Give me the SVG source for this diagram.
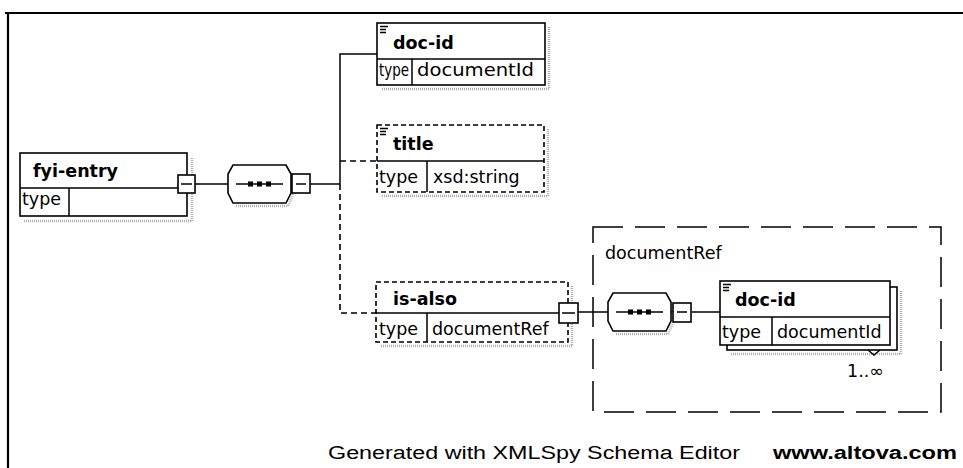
<svg xmlns="http://www.w3.org/2000/svg" width="963" height="468" viewBox="0 0 963 468">
<style>
.box{fill:#fff;stroke:#000;stroke-width:1.6}
.dbox{fill:#fff;stroke:#000;stroke-width:1.6;stroke-dasharray:5 3}
.ln{fill:none;stroke:#000;stroke-width:1.5}
.dln{fill:none;stroke:#000;stroke-width:1.6;stroke-dasharray:6 4}
.sh{fill:none;stroke:#b0b0b0;stroke-width:2.5;stroke-dasharray:1 1}
.ic{fill:none;stroke:#000;stroke-width:1.4}
.name{font-family:"DejaVu Sans",sans-serif;font-weight:bold;font-size:17.5px;fill:#000}
.txt{font-family:"DejaVu Sans",sans-serif;font-size:17.5px;fill:#000}
.foot{font-family:"Liberation Sans",Arial,sans-serif;font-size:18px;fill:#000}
.sq{fill:#000}
</style>

<!-- outer frame -->
<path d="M5,13 H963 M8,12 V468" fill="none" stroke="#000" stroke-width="2.2"/>

<g id="connectors">
  <path class="ln" d="M195,184 H228"/>
  <path class="ln" d="M310,184 H340"/>
  <path class="ln" d="M340,184 V54 H377"/>
  <path class="dln" d="M340,184 V313 H376"/>
  <path class="dln" d="M340,161 H377"/>
  <path class="ln" d="M578,312 H608"/>
  <path class="ln" d="M671,312 H673"/>
  <path class="ln" d="M692,312 H720"/>
</g>

<g id="fyi-entry">
  <path class="sh" d="M192,158 V221 H24"/>
  <rect class="box" x="20" y="153" width="167" height="63"/>
  <path class="ln" d="M20,188 H187 M69,188 V216"/>
  <text class="name" x="33" y="177">fyi-entry</text>
  <text class="txt" x="22" y="205">type</text>
  <rect class="box" x="178" y="175" width="17" height="18"/>
  <path class="ln" d="M181,184 H192"/>
</g>

<g id="sequence1">
  <path class="sh" d="M293,176 V195 L288,206 H236"/>
  <polygon class="box" points="233,165 286,165 291,174 291,193 286,203 233,203 228,193 228,174"/>
  <path class="ln" d="M236,184 H283"/>
  <rect class="sq" x="248" y="181.5" width="5" height="5"/>
  <rect class="sq" x="257" y="181.5" width="5" height="5"/>
  <rect class="sq" x="266" y="181.5" width="5" height="5"/>
  <rect class="box" x="292" y="174" width="18" height="19"/>
  <path class="ln" d="M296,184 H306"/>
</g>

<g id="doc-id">
  <path class="sh" d="M549,27 V89 H381"/>
  <rect class="box" x="377" y="23" width="168" height="62"/>
  <path class="ln" d="M377,59 H545 M412,59 V85"/>
  <path class="ic" d="M380,26.5 H388 M380,29.5 H386 M380,32.5 H386"/>
  <text class="name" x="393" y="49">doc-id</text>
  <text class="txt" x="379" y="76" textLength="30" lengthAdjust="spacingAndGlyphs">type</text>
  <text class="txt" x="417" y="76" textLength="117" lengthAdjust="spacingAndGlyphs">documentId</text>
</g>

<g id="title">
  <path class="sh" d="M548,129 V196 H381"/>
  <rect class="dbox" x="377" y="125" width="167" height="67"/>
  <path class="ln" d="M377,161 H544"/>
  <path class="ln" d="M427,161 V192"/>
  <path class="ic" d="M380,128.5 H388 M380,131.5 H386 M380,134.5 H386"/>
  <text class="name" x="393" y="150">title</text>
  <text class="txt" x="379" y="183">type</text>
  <text class="txt" x="433" y="183">xsd:string</text>
</g>

<g id="is-also">
  <path class="sh" d="M572,286 V346 H380"/>
  <rect class="dbox" x="376" y="282" width="192" height="60"/>
  <path class="ln" d="M376,313 H568 M427,313 V342"/>
  <text class="name" x="393" y="305">is-also</text>
  <text class="txt" x="379" y="335">type</text>
  <text class="txt" x="432" y="335">documentRef</text>
  <rect class="box" x="559" y="303" width="19" height="20"/>
  <path class="ln" d="M562,313 H575"/>
</g>

<g id="documentRef">
  <rect x="593" y="227" width="348" height="185" fill="none" stroke="#000" stroke-width="1.5" stroke-dasharray="30 12"/>
  <text class="txt" x="605" y="259">documentRef</text>
</g>

<g id="sequence2">
  <path class="sh" d="M673,304 V323 L668,334 H616"/>
  <polygon class="box" points="613,293 666,293 671,302 671,321 666,331 613,331 608,321 608,302"/>
  <path class="ln" d="M616,312 H663"/>
  <rect class="sq" x="628" y="309.5" width="5" height="5"/>
  <rect class="sq" x="637" y="309.5" width="5" height="5"/>
  <rect class="sq" x="646" y="309.5" width="5" height="5"/>
  <rect class="box" x="673" y="303" width="18" height="19"/>
  <path class="ln" d="M677,312 H687"/>
</g>

<g id="doc-id-2">
  <path class="sh" d="M901,291 V354 H731"/>
  <rect class="box" x="727" y="287" width="170" height="63"/>
  <rect class="box" x="720" y="281" width="170" height="64"/>
  <path class="ln" d="M720,317 H890 M772,317 V345"/>
  <path class="ic" d="M723,284.5 H731 M723,287.5 H729 M723,290.5 H729"/>
  <text class="name" x="735" y="306">doc-id</text>
  <text class="txt" x="722" y="338">type</text>
  <text class="txt" x="777" y="338">documentId</text>
  <path class="ln" d="M868,350 L874,355 L880,350"/>
  <text class="txt" x="847" y="377">1..∞</text>
</g>

<g id="footer">
  <text class="foot" x="328" y="459" textLength="412" lengthAdjust="spacingAndGlyphs">Generated with XMLSpy Schema Editor</text>
  <text class="foot" x="773" y="459" font-weight="bold" textLength="184" lengthAdjust="spacingAndGlyphs">www.altova.com</text>
</g>
</svg>
